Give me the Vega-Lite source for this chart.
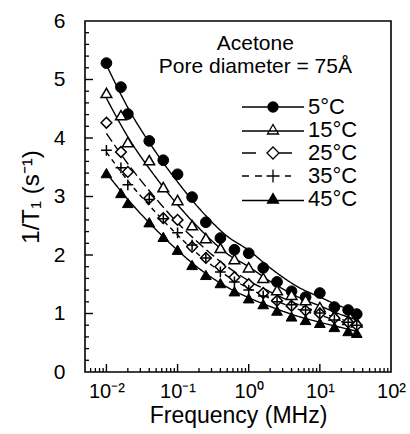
{
  "$schema": "https://vega.github.io/schema/vega-lite/v6.json",
  "width": 306,
  "height": 351,
  "autosize": {"type": "none"},
  "padding": {"left": 85, "top": 21, "right": 19, "bottom": 62},
  "background": "white",
  "config": {
    "view": {"stroke": "black", "strokeWidth": 1.6},
    "font": "Liberation Sans",
    "axis": {"grid": false, "domain": false, "ticks": false, "labelColor": "black", "titleColor": "black", "labelFont": "Liberation Sans", "titleFont": "Liberation Sans", "titleFontWeight": "normal", "labelFlush": false, "labelOverlap": false}
  },
  "datasets": {
    "xmaj": [{"t": 0.01}, {"t": 0.1}, {"t": 1}, {"t": 10}],
    "xmin": [{"t": 0.006}, {"t": 0.007}, {"t": 0.008}, {"t": 0.009}, {"t": 0.02}, {"t": 0.03}, {"t": 0.04}, {"t": 0.05}, {"t": 0.06}, {"t": 0.07}, {"t": 0.08}, {"t": 0.09}, {"t": 0.2}, {"t": 0.3}, {"t": 0.4}, {"t": 0.5}, {"t": 0.6}, {"t": 0.7}, {"t": 0.8}, {"t": 0.9}, {"t": 2}, {"t": 3}, {"t": 4}, {"t": 5}, {"t": 6}, {"t": 7}, {"t": 8}, {"t": 9}, {"t": 20}, {"t": 30}, {"t": 40}, {"t": 50}, {"t": 60}, {"t": 70}, {"t": 80}, {"t": 90}],
    "ymaj": [{"t": 1}, {"t": 2}, {"t": 3}, {"t": 4}, {"t": 5}],
    "ymin": [{"t": 0.2}, {"t": 0.4}, {"t": 0.6}, {"t": 0.8}, {"t": 1.2}, {"t": 1.4}, {"t": 1.6}, {"t": 1.8}, {"t": 2.2}, {"t": 2.4}, {"t": 2.6}, {"t": 2.8}, {"t": 3.2}, {"t": 3.4}, {"t": 3.6}, {"t": 3.8}, {"t": 4.2}, {"t": 4.4}, {"t": 4.6}, {"t": 4.8}, {"t": 5.2}, {"t": 5.4}, {"t": 5.6}, {"t": 5.8}],
    "pts": [
      {"f": 0.01, "v": 5.28, "s": "5°C"}, {"f": 0.016, "v": 4.87, "s": "5°C"}, {"f": 0.02, "v": 4.41, "s": "5°C"}, {"f": 0.04, "v": 3.95, "s": "5°C"}, {"f": 0.063, "v": 3.62, "s": "5°C"}, {"f": 0.1, "v": 3.38, "s": "5°C"}, {"f": 0.16, "v": 2.99, "s": "5°C"}, {"f": 0.25, "v": 2.56, "s": "5°C"}, {"f": 0.4, "v": 2.29, "s": "5°C"}, {"f": 0.63, "v": 2.09, "s": "5°C"}, {"f": 1, "v": 2.03, "s": "5°C"}, {"f": 1.6, "v": 1.78, "s": "5°C"}, {"f": 2.5, "v": 1.54, "s": "5°C"}, {"f": 4, "v": 1.38, "s": "5°C"}, {"f": 6.3, "v": 1.28, "s": "5°C"}, {"f": 10, "v": 1.35, "s": "5°C"}, {"f": 16, "v": 1.11, "s": "5°C"}, {"f": 25, "v": 1.06, "s": "5°C"}, {"f": 33, "v": 0.99, "s": "5°C"},
      {"f": 0.01, "v": 4.77, "s": "15°C"}, {"f": 0.016, "v": 4.39, "s": "15°C"}, {"f": 0.02, "v": 3.93, "s": "15°C"}, {"f": 0.04, "v": 3.62, "s": "15°C"}, {"f": 0.063, "v": 3.16, "s": "15°C"}, {"f": 0.1, "v": 2.94, "s": "15°C"}, {"f": 0.16, "v": 2.51, "s": "15°C"}, {"f": 0.25, "v": 2.29, "s": "15°C"}, {"f": 0.4, "v": 2.12, "s": "15°C"}, {"f": 0.63, "v": 1.93, "s": "15°C"}, {"f": 1, "v": 1.79, "s": "15°C"}, {"f": 1.6, "v": 1.61, "s": "15°C"}, {"f": 2.5, "v": 1.4, "s": "15°C"}, {"f": 4, "v": 1.32, "s": "15°C"}, {"f": 6.3, "v": 1.23, "s": "15°C"}, {"f": 10, "v": 1.11, "s": "15°C"}, {"f": 16, "v": 0.97, "s": "15°C"}, {"f": 25, "v": 0.89, "s": "15°C"}, {"f": 33, "v": 0.85, "s": "15°C"},
      {"f": 0.01, "v": 4.26, "s": "25°C"}, {"f": 0.016, "v": 3.76, "s": "25°C"}, {"f": 0.02, "v": 3.42, "s": "25°C"}, {"f": 0.04, "v": 2.97, "s": "25°C"}, {"f": 0.063, "v": 2.63, "s": "25°C"}, {"f": 0.1, "v": 2.6, "s": "25°C"}, {"f": 0.16, "v": 2.14, "s": "25°C"}, {"f": 0.25, "v": 1.95, "s": "25°C"}, {"f": 0.4, "v": 1.8, "s": "25°C"}, {"f": 0.63, "v": 1.62, "s": "25°C"}, {"f": 1, "v": 1.5, "s": "25°C"}, {"f": 1.6, "v": 1.35, "s": "25°C"}, {"f": 2.5, "v": 1.22, "s": "25°C"}, {"f": 4, "v": 1.13, "s": "25°C"}, {"f": 6.3, "v": 1.05, "s": "25°C"}, {"f": 10, "v": 1.0, "s": "25°C"}, {"f": 16, "v": 0.92, "s": "25°C"}, {"f": 25, "v": 0.85, "s": "25°C"}, {"f": 33, "v": 0.8, "s": "25°C"},
      {"f": 0.01, "v": 3.79, "s": "35°C"}, {"f": 0.016, "v": 3.49, "s": "35°C"}, {"f": 0.02, "v": 3.2, "s": "35°C"}, {"f": 0.04, "v": 2.95, "s": "35°C"}, {"f": 0.063, "v": 2.62, "s": "35°C"}, {"f": 0.1, "v": 2.38, "s": "35°C"}, {"f": 0.16, "v": 2.17, "s": "35°C"}, {"f": 0.25, "v": 1.95, "s": "35°C"}, {"f": 0.4, "v": 1.71, "s": "35°C"}, {"f": 0.63, "v": 1.54, "s": "35°C"}, {"f": 1, "v": 1.4, "s": "35°C"}, {"f": 1.6, "v": 1.3, "s": "35°C"}, {"f": 2.5, "v": 1.2, "s": "35°C"}, {"f": 4, "v": 1.15, "s": "35°C"}, {"f": 6.3, "v": 1.06, "s": "35°C"}, {"f": 10, "v": 1.01, "s": "35°C"}, {"f": 16, "v": 0.89, "s": "35°C"}, {"f": 25, "v": 0.85, "s": "35°C"}, {"f": 33, "v": 0.8, "s": "35°C"},
      {"f": 0.01, "v": 3.4, "s": "45°C"}, {"f": 0.016, "v": 3.06, "s": "45°C"}, {"f": 0.02, "v": 2.89, "s": "45°C"}, {"f": 0.04, "v": 2.56, "s": "45°C"}, {"f": 0.063, "v": 2.31, "s": "45°C"}, {"f": 0.1, "v": 2.09, "s": "45°C"}, {"f": 0.16, "v": 1.83, "s": "45°C"}, {"f": 0.25, "v": 1.66, "s": "45°C"}, {"f": 0.4, "v": 1.52, "s": "45°C"}, {"f": 0.63, "v": 1.38, "s": "45°C"}, {"f": 1, "v": 1.26, "s": "45°C"}, {"f": 1.6, "v": 1.16, "s": "45°C"}, {"f": 2.5, "v": 1.05, "s": "45°C"}, {"f": 4, "v": 0.95, "s": "45°C"}, {"f": 6.3, "v": 0.89, "s": "45°C"}, {"f": 10, "v": 0.84, "s": "45°C"}, {"f": 16, "v": 0.77, "s": "45°C"}, {"f": 25, "v": 0.7, "s": "45°C"}, {"f": 33, "v": 0.67, "s": "45°C"}
    ],
    "fit": [
      {"f": 0.01, "v": 5.25, "s": "5°C"}, {"f": 0.02, "v": 4.52, "s": "5°C"}, {"f": 0.05, "v": 3.75, "s": "5°C"}, {"f": 0.1, "v": 3.25, "s": "5°C"}, {"f": 0.2, "v": 2.8, "s": "5°C"}, {"f": 0.5, "v": 2.32, "s": "5°C"}, {"f": 1, "v": 2.08, "s": "5°C"}, {"f": 2, "v": 1.78, "s": "5°C"}, {"f": 5, "v": 1.45, "s": "5°C"}, {"f": 10, "v": 1.28, "s": "5°C"}, {"f": 20, "v": 1.12, "s": "5°C"}, {"f": 35, "v": 1.02, "s": "5°C"},
      {"f": 0.01, "v": 4.68, "s": "15°C"}, {"f": 0.02, "v": 4.02, "s": "15°C"}, {"f": 0.05, "v": 3.32, "s": "15°C"}, {"f": 0.1, "v": 2.86, "s": "15°C"}, {"f": 0.2, "v": 2.46, "s": "15°C"}, {"f": 0.5, "v": 2.02, "s": "15°C"}, {"f": 1, "v": 1.8, "s": "15°C"}, {"f": 2, "v": 1.55, "s": "15°C"}, {"f": 5, "v": 1.28, "s": "15°C"}, {"f": 10, "v": 1.13, "s": "15°C"}, {"f": 20, "v": 0.98, "s": "15°C"}, {"f": 35, "v": 0.88, "s": "15°C"},
      {"f": 0.01, "v": 4.08, "s": "25°C"}, {"f": 0.02, "v": 3.56, "s": "25°C"}, {"f": 0.05, "v": 2.96, "s": "25°C"}, {"f": 0.1, "v": 2.55, "s": "25°C"}, {"f": 0.2, "v": 2.2, "s": "25°C"}, {"f": 0.5, "v": 1.8, "s": "25°C"}, {"f": 1, "v": 1.56, "s": "25°C"}, {"f": 2, "v": 1.37, "s": "25°C"}, {"f": 5, "v": 1.15, "s": "25°C"}, {"f": 10, "v": 1.02, "s": "25°C"}, {"f": 20, "v": 0.9, "s": "25°C"}, {"f": 35, "v": 0.81, "s": "25°C"},
      {"f": 0.01, "v": 3.76, "s": "35°C"}, {"f": 0.02, "v": 3.27, "s": "35°C"}, {"f": 0.05, "v": 2.72, "s": "35°C"}, {"f": 0.1, "v": 2.34, "s": "35°C"}, {"f": 0.2, "v": 2.0, "s": "35°C"}, {"f": 0.5, "v": 1.64, "s": "35°C"}, {"f": 1, "v": 1.43, "s": "35°C"}, {"f": 2, "v": 1.26, "s": "35°C"}, {"f": 5, "v": 1.07, "s": "35°C"}, {"f": 10, "v": 0.97, "s": "35°C"}, {"f": 20, "v": 0.86, "s": "35°C"}, {"f": 35, "v": 0.78, "s": "35°C"},
      {"f": 0.01, "v": 3.4, "s": "45°C"}, {"f": 0.02, "v": 2.95, "s": "45°C"}, {"f": 0.05, "v": 2.43, "s": "45°C"}, {"f": 0.1, "v": 2.08, "s": "45°C"}, {"f": 0.2, "v": 1.77, "s": "45°C"}, {"f": 0.5, "v": 1.45, "s": "45°C"}, {"f": 1, "v": 1.27, "s": "45°C"}, {"f": 2, "v": 1.12, "s": "45°C"}, {"f": 5, "v": 0.95, "s": "45°C"}, {"f": 10, "v": 0.85, "s": "45°C"}, {"f": 20, "v": 0.76, "s": "45°C"}, {"f": 35, "v": 0.69, "s": "45°C"}
    ]
  },
  "layer": [
    {
      "data": {"name": "fit"},
      "mark": {"type": "line", "color": "black", "strokeWidth": 1.4, "interpolate": "monotone"},
      "encoding": {
        "x": {"field": "f", "type": "quantitative", "scale": {"type": "log", "domain": [0.005, 100], "nice": false},
          "axis": {"values": [0.01, 0.1, 1, 10, 100], "labelFontSize": 20, "labelPadding": 9,
            "labelExpr": "datum.value == 0.01 ? '10⁻²' : datum.value == 0.1 ? '10⁻¹' : datum.value == 1 ? '10⁰' : datum.value == 10 ? '10¹' : datum.value == 100 ? '10²' : ''",
            "title": "Frequency (MHz)", "titleFontSize": 23, "titlePadding": 3}},
        "y": {"field": "v", "type": "quantitative", "scale": {"domain": [0, 6], "nice": false},
          "axis": {"values": [0, 1, 2, 3, 4, 5, 6], "labelFontSize": 21, "labelPadding": 20,
            "title": "1/T₁ (s⁻¹)", "titleFontSize": 24, "titlePadding": 10}},
        "strokeDash": {"field": "s", "type": "nominal", "scale": {"domain": ["5°C", "15°C", "25°C", "35°C", "45°C"], "range": [[1, 0], [1, 0], [10, 4], [5, 4], [1, 0]]}, "legend": null}
      }
    },
    {
      "data": {"name": "xmaj"},
      "mark": {"type": "tick", "orient": "vertical", "size": 8, "thickness": 1.4, "color": "black", "opacity": 1, "yOffset": -4},
      "encoding": {
        "x": {"field": "t", "type": "quantitative", "axis": null},
        "y": {"datum": 0, "type": "quantitative", "axis": null}
      }
    },
    {
      "data": {"name": "xmin"},
      "mark": {"type": "tick", "orient": "vertical", "size": 4, "thickness": 1.3, "color": "black", "opacity": 1, "yOffset": -2},
      "encoding": {
        "x": {"field": "t", "type": "quantitative", "axis": null},
        "y": {"datum": 0, "type": "quantitative", "axis": null}
      }
    },
    {
      "data": {"name": "ymaj"},
      "mark": {"type": "tick", "orient": "horizontal", "size": 8, "thickness": 1.4, "color": "black", "opacity": 1, "xOffset": 4},
      "encoding": {
        "y": {"field": "t", "type": "quantitative", "axis": null},
        "x": {"datum": 0.005, "type": "quantitative", "axis": null}
      }
    },
    {
      "data": {"name": "ymin"},
      "mark": {"type": "tick", "orient": "horizontal", "size": 4, "thickness": 1.3, "color": "black", "opacity": 1, "xOffset": 2},
      "encoding": {
        "y": {"field": "t", "type": "quantitative", "axis": null},
        "x": {"datum": 0.005, "type": "quantitative", "axis": null}
      }
    },
    {
      "data": {"name": "pts"},
      "transform": [{"filter": "datum.s == '5°C' || datum.s == '45°C'"}],
      "mark": {"type": "point", "filled": true, "fill": "black", "stroke": "black", "strokeWidth": 1, "size": 115, "opacity": 1},
      "encoding": {
        "x": {"field": "f", "type": "quantitative", "axis": null},
        "y": {"field": "v", "type": "quantitative", "axis": null},
        "shape": {"field": "s", "type": "nominal", "scale": {"domain": ["5°C", "15°C", "25°C", "35°C", "45°C"], "range": ["circle", "triangle-up", "diamond", "M-1,0H1M0,-1V1", "triangle-up"]}, "legend": null}
      }
    },
    {
      "data": {"name": "pts"},
      "transform": [{"filter": "datum.s != '5°C' && datum.s != '45°C'"}],
      "mark": {"type": "point", "filled": true, "fill": "white", "stroke": "black", "strokeWidth": 1.5, "size": 115, "opacity": 1},
      "encoding": {
        "x": {"field": "f", "type": "quantitative", "axis": null},
        "y": {"field": "v", "type": "quantitative", "axis": null},
        "shape": {"field": "s", "type": "nominal", "scale": {"domain": ["5°C", "15°C", "25°C", "35°C", "45°C"], "range": ["circle", "triangle-up", "diamond", "M-1,0H1M0,-1V1", "triangle-up"]}, "legend": null}
      }
    },
    {
      "data": {"name": "pts"},
      "mark": {"type": "point", "opacity": 0, "stroke": "black"},
      "encoding": {
        "x": {"field": "f", "type": "quantitative", "axis": null},
        "y": {"field": "v", "type": "quantitative", "axis": null},
        "shape": {"field": "s", "type": "nominal",
          "scale": {"domain": ["5°C", "15°C", "25°C", "35°C", "45°C"], "range": [
            "M-6.2,0H6.2M1,0A1,1,0,1,1,-1,0A1,1,0,1,1,1,0Z",
            "M-6.2,0.2H6.2M0,-1.1L1.1,0.8L-1.1,0.8Z",
            "M-6.2,0H-3.4M-1.2,0L0,-1.2L1.2,0L0,1.2ZM1.2,0H3.8",
            "M-6.2,0H-4.8M-3.6,0H-2.2M-1.3,0H1.3M0,-1.3V1.3M2.4,0H3.6",
            "M-6.2,0.3H6.2M0,-1.1L1.1,0.8L-1.1,0.8Z"]},
          "legend": {"orient": "none", "legendX": 177, "legendY": 75, "title": null, "padding": 0, "symbolSize": 100, "symbolStrokeColor": "black", "symbolStrokeWidth": 1.3, "symbolOpacity": 1, "labelFontSize": 22, "labelOffset": 24, "labelColor": "black", "labelFont": "Liberation Sans", "rowPadding": 1,
            "encode": {"symbols": {"update": {"stroke": {"value": "black"}, "strokeWidth": {"value": 1.3}, "opacity": {"value": 1}}}}}},
        "fill": {"field": "s", "type": "nominal",
          "scale": {"domain": ["5°C", "15°C", "25°C", "35°C", "45°C"], "range": ["black", "white", "white", "white", "black"]},
          "legend": {"orient": "none", "legendX": 177, "legendY": 75, "title": null, "padding": 0, "symbolSize": 100, "symbolStrokeColor": "black", "symbolStrokeWidth": 1.3, "symbolOpacity": 1, "labelFontSize": 22, "labelOffset": 24, "labelColor": "black", "labelFont": "Liberation Sans", "rowPadding": 1,
            "encode": {"symbols": {"update": {"stroke": {"value": "black"}, "strokeWidth": {"value": 1.3}, "opacity": {"value": 1}}}}}}
      }
    },
    {
      "data": {"values": [{"t": "Acetone"}]},
      "mark": {"type": "text", "fontSize": 21, "font": "Liberation Sans", "align": "center", "baseline": "alphabetic", "color": "black"},
      "encoding": {
        "x": {"datum": 1.24, "type": "quantitative", "axis": null},
        "y": {"datum": 5.5, "type": "quantitative", "axis": null},
        "text": {"field": "t"}
      }
    },
    {
      "data": {"values": [{"t": "Pore diameter = 75Å"}]},
      "mark": {"type": "text", "fontSize": 21, "font": "Liberation Sans", "align": "center", "baseline": "alphabetic", "color": "black"},
      "encoding": {
        "x": {"datum": 1.24, "type": "quantitative", "axis": null},
        "y": {"datum": 5.11, "type": "quantitative", "axis": null},
        "text": {"field": "t"}
      }
    }
  ],
  "resolve": {"scale": {"shape": "independent", "fill": "independent"}, "axis": {"x": "independent", "y": "independent"}}
}
